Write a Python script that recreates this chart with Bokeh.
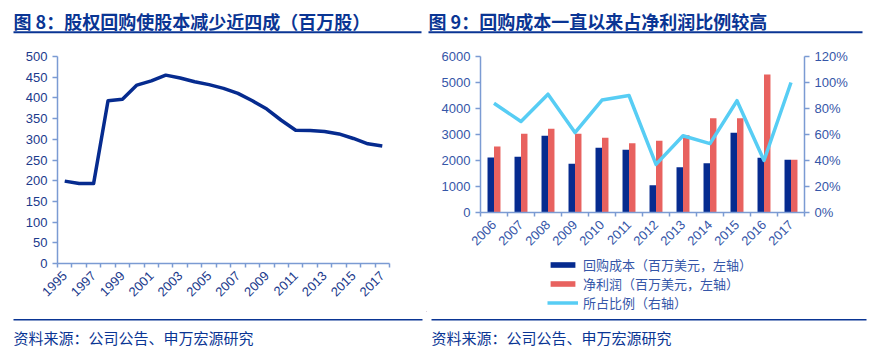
import math
from bokeh.plotting import figure
from bokeh.models import (FixedTicker, LinearAxis, Range1d, Label, BoxAnnotation,
                          Legend, LegendItem, NumeralTickFormatter, ColumnDataSource)
from bokeh.layouts import row, column
from bokeh.transform import dodge
from bokeh.embed import file_html
from bokeh.resources import INLINE

# ---------------- data ----------------
years_a = [1995, 1996, 1997, 1998, 1999, 2000, 2001, 2002, 2003, 2004, 2005, 2006,
           2007, 2008, 2009, 2010, 2011, 2012, 2013, 2014, 2015, 2016, 2017]
shares = [199, 193, 193, 393, 397, 431, 441, 455, 448, 439, 432, 423,
          411, 393, 373, 346, 322, 321, 319, 313, 302, 289, 284]
tick_years_a = [1995, 1997, 1999, 2001, 2003, 2005, 2007, 2009, 2011, 2013, 2015, 2017]
tick_labels_a = ["1995", "1997", "1999", "2001", "2003", "2005", "2007", "2009",
                 "2011", "2013", "2015", "2017"]
yticks_a = [0, 50, 100, 150, 200, 250, 300, 350, 400, 450, 500]

years_b = [2006, 2007, 2008, 2009, 2010, 2011, 2012, 2013, 2014, 2015, 2016, 2017]
tick_labels_b = ["2006", "2007", "2008", "2009", "2010", "2011", "2012", "2013",
                 "2014", "2015", "2016", "2017"]
buyback = [2115, 2141, 2949, 1872, 2487, 2410, 1051, 1744, 1897, 3064, 2103, 2026]
profit = [2538, 3026, 3218, 3026, 2872, 2667, 2756, 2974, 3628, 3628, 5308, 2026]
ratio = [0.84, 0.70, 0.91, 0.615, 0.865, 0.90, 0.37, 0.59, 0.53, 0.86, 0.40, 1.00]
yticks_b = [0, 1000, 2000, 3000, 4000, 5000, 6000]
yticks_pct = [0, 0.2, 0.4, 0.6, 0.8, 1.0, 1.2]

title_a = "图 8：股权回购使股本减少近四成（百万股）"
title_b = "图 9：回购成本一直以来占净利润比例较高"
source_text = "资料来源：公司公告、申万宏源研究"
legend_labels = ["回购成本（百万美元，左轴）", "净利润（百万美元，左轴）", "所占比例（右轴）"]

# ---------------- style ----------------
NAVY = "#062b8f"
RED = "#e8625f"
CYAN = "#57cdf4"
AXIS = "#7b9bd3"
TITLE = "#0a3594"
LBL_A = "#1b3a8c"
LBL_B = "#3556a8"
CJK = "Noto Sans CJK SC"
NUM = "Liberation Sans"
W = 874
LW = 426          # width of the left column


def blank_fig(w, h):
    f = figure(width=w, height=h, output_backend="svg", toolbar_location=None,
               x_axis_location=None, y_axis_location=None,
               x_range=Range1d(0, w), y_range=Range1d(0, h),
               min_border=0, min_border_left=0, min_border_right=0,
               min_border_top=0, min_border_bottom=0, frame_align=False)
    f.outline_line_color = None
    f.grid.visible = False
    f.background_fill_color = None
    f.border_fill_color = None
    return f


def hrule(f, h, x0, x1, y_top, y_bot):
    f.add_layout(BoxAnnotation(left=x0, right=x1, top=h - y_top, bottom=h - y_bot,
                               left_units="screen", right_units="screen",
                               top_units="screen", bottom_units="screen",
                               fill_color=TITLE, fill_alpha=1, line_color=None))


def text(f, h, x, y, s, size, bold=False):
    f.add_layout(Label(x=x, y=h - y, x_units="screen", y_units="screen", text=s,
                       text_font=CJK, text_font_size=size,
                       text_font_style="bold" if bold else "normal",
                       text_color=TITLE, text_baseline="middle"))


def style_axes(p, lbl_color):
    for ax in p.axis:
        ax.axis_line_color = AXIS
        ax.axis_line_width = 1.5
        ax.major_tick_line_color = AXIS
        ax.major_tick_line_width = 1.5
        ax.minor_tick_line_color = AXIS
        ax.minor_tick_line_width = 1.5
        ax.major_label_text_font = NUM
        ax.major_label_text_font_size = "13px"
        ax.major_label_text_color = lbl_color
        ax.major_tick_in = 0
        ax.minor_tick_in = 0
        ax.minor_tick_out = 0


def plain(p):
    p.outline_line_color = None
    p.grid.visible = False
    p.background_fill_color = None
    p.border_fill_color = None


# ---------------- header (page y 0..40) ----------------
HH = 40
header = blank_fig(W, HH)
text(header, HH, 13, 20, title_a, "18px", bold=True)
text(header, HH, 428, 20, title_b, "18px", bold=True)
hrule(header, HH, 13, 421, 30.7, 32.7)
hrule(header, HH, 428, 862, 30.7, 32.7)

# ---------------- chart A (page y 40..312) ----------------
CH = 272
p1 = figure(width=LW, height=CH, output_backend="svg", toolbar_location=None,
            x_range=Range1d(1994.5, 2017.5), y_range=Range1d(0, 500),
            min_border_left=57, min_border_right=37, min_border_top=16, min_border_bottom=49,
            frame_align=False)
plain(p1)
p1.line(years_a, shares, line_color=NAVY, line_width=3.5, line_join="round")
style_axes(p1, LBL_A)
xa = p1.xaxis[0]
xa.ticker = FixedTicker(ticks=tick_years_a, minor_ticks=[y - 0.5 for y in years_a] + [years_a[-1] + 0.5])
xa.major_label_overrides = dict(zip(tick_years_a, tick_labels_a))
xa.major_tick_out = 0
xa.minor_tick_out = 4
xa.major_label_orientation = math.pi / 4
xa.major_label_standoff = 6
ya = p1.yaxis[0]
ya.ticker = FixedTicker(ticks=yticks_a)
ya.major_tick_out = 5

# ---------------- chart B (page y 40..256) ----------------
BH = 216
p2 = figure(width=W - LW, height=BH, output_backend="svg", toolbar_location=None,
            x_range=Range1d(2005.5, 2017.5), y_range=Range1d(0, 6000),
            min_border_left=54, min_border_right=70, min_border_top=16, min_border_bottom=44,
            frame_align=False)
plain(p2)
p2.extra_y_ranges = {"pct": Range1d(0, 1.2)}
src = ColumnDataSource(dict(year=years_b, buyback=buyback, profit=profit, ratio=ratio))
p2.vbar(x=dodge("year", -0.12), top="buyback", width=0.24, fill_color=NAVY,
        line_color=None, source=src)
p2.vbar(x=dodge("year", 0.12), top="profit", width=0.24, fill_color=RED,
        line_color=None, source=src)
p2.line("year", "ratio", y_range_name="pct", line_color=CYAN, line_width=3.5,
        line_join="round", source=src)
p2.add_layout(LinearAxis(y_range_name="pct", ticker=FixedTicker(ticks=yticks_pct),
                         formatter=NumeralTickFormatter(format="0%")), "right")
style_axes(p2, LBL_B)
xb = p2.xaxis[0]
xb.ticker = FixedTicker(ticks=years_b, minor_ticks=[y - 0.5 for y in years_b] + [years_b[-1] + 0.5])
xb.major_label_overrides = dict(zip(years_b, tick_labels_b))
xb.major_tick_out = 0
xb.minor_tick_out = 4
xb.major_label_orientation = math.pi / 4
xb.major_label_standoff = 6
p2.yaxis[0].ticker = FixedTicker(ticks=yticks_b)
for ax in p2.yaxis:
    ax.major_tick_out = 5

# ---------------- legend strip for chart B (page y 256..312) ----------------
# key renderers sit outside the strip's visible range; only their legend swatches show
LH = 56
lg = blank_fig(W - LW, LH)
k1 = lg.vbar(x=[-1000], top=[1], width=1, fill_color=NAVY, line_color=None)
k2 = lg.vbar(x=[-1000], top=[1], width=1, fill_color=RED, line_color=None)
k3 = lg.line(x=[-1000, -999], y=[1, 1], line_color=CYAN, line_width=3.5)
legend = Legend(items=[LegendItem(label=legend_labels[0], renderers=[k1]),
                       LegendItem(label=legend_labels[1], renderers=[k2]),
                       LegendItem(label=legend_labels[2], renderers=[k3])],
                location=(547 - LW, 0), orientation="vertical",
                glyph_width=31, glyph_height=7, label_height=18, spacing=0,
                padding=0, margin=0, border_line_color=None, background_fill_alpha=0,
                label_text_font=CJK, label_text_font_size="13px",
                label_text_color=LBL_B, label_standoff=5)
lg.add_layout(legend)

# ---------------- footer (page y 312..357) ----------------
FH = 357 - 40 - CH
footer = blank_fig(W, FH)
y0 = 40 + CH
hrule(footer, FH, 13, 422, 318.5 - y0, 320 - y0)
hrule(footer, FH, 431, 866, 318.5 - y0, 320 - y0)
text(footer, FH, 13, 337 - y0, source_text, "15px")
text(footer, FH, 431, 337 - y0, source_text, "15px")

layout = column(header, row(p1, column(p2, lg)), footer)
open("out.html", "w").write(file_html(layout, INLINE))
